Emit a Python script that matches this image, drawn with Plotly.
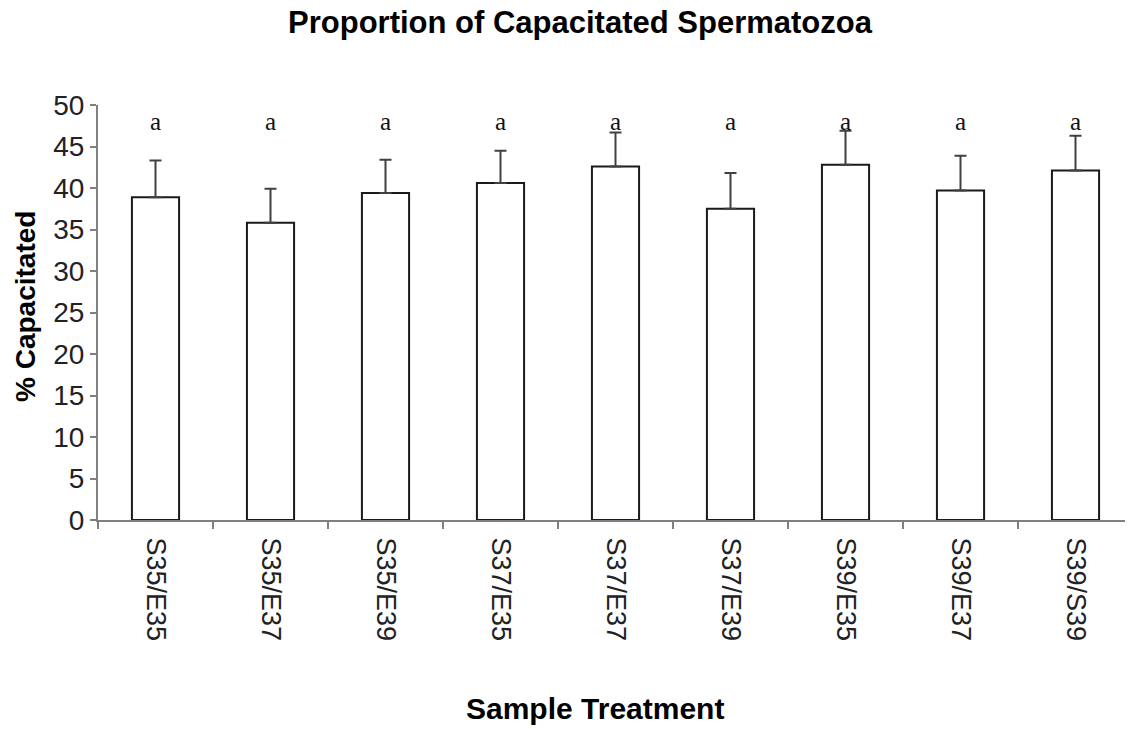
import plotly.graph_objects as go

# treatment groups and their mean % capacitated (+ upper error)
treatments = ['S35/E35', 'S35/E37', 'S35/E39', 'S37/E35', 'S37/E37',
              'S37/E39', 'S39/E35', 'S39/E37', 'S39/S39']
pct_capacitated = [38.9, 35.8, 39.4, 40.6, 42.6, 37.5, 42.8, 39.7, 42.1]
sem = [4.4, 4.1, 4.0, 3.9, 4.1, 4.3, 4.1, 4.2, 4.2]
letters = ['a'] * 9
letter_y = [47.7] * 9
y_ticks = [0, 5, 10, 15, 20, 25, 30, 35, 40, 45, 50]

sans = 'Arial, Liberation Sans, sans-serif'

# page has an 8px body margin, so the figure is sized/positioned to compensate
W, H = 1125, 721
plot_left, plot_top, plot_bottom = 90, 97, 512

fig = go.Figure()

# bars with upward error bars only
fig.add_trace(go.Bar(
    x=treatments,
    y=pct_capacitated,
    width=0.41,
    marker=dict(color='white', line=dict(color='#1a1a1a', width=2)),
    error_y=dict(type='data', symmetric=False, array=sem,
                 arrayminus=[0] * len(sem),
                 color='#404040', thickness=2, width=6),
    showlegend=False,
    hoverinfo='x+y'
))

# significance letters above bars
fig.add_trace(go.Scatter(
    x=treatments,
    y=letter_y,
    mode='text',
    text=letters,
    textfont=dict(family='Liberation Serif, Times New Roman, serif', size=25, color='#111111'),
    showlegend=False,
    hoverinfo='skip'
))

fig.update_layout(
    width=W,
    height=H,
    margin=dict(l=plot_left, r=0, t=plot_top, b=H - plot_bottom, autoexpand=False),
    paper_bgcolor='white',
    plot_bgcolor='white',
    title=dict(text='<b>Proportion of Capacitated Spermatozoa</b>',
               font=dict(family=sans, size=31, color='black'),
               x=572 / W, xanchor='center', xref='container',
               y=1 - 3 / H, yanchor='top', yref='container', pad=dict(t=0, b=0)),
)

fig.update_xaxes(
    automargin=False,
    showline=True, linecolor='#808080', linewidth=2,
    ticks='outside', ticklen=7, tickcolor='#808080', tickwidth=2,
    tickson='boundaries',
    tickangle=90,
    ticklabelstandoff=10,
    tickfont=dict(family=sans, size=27, color='#222222'),
    showgrid=False, zeroline=False,
)
fig.update_yaxes(
    automargin=False,
    range=[0, 50],
    tickvals=y_ticks,
    showline=True, linecolor='#808080', linewidth=2,
    ticks='outside', ticklen=6, tickcolor='#808080', tickwidth=2,
    tickfont=dict(family=sans, size=28, color='#222222'),
    showgrid=False, zeroline=False,
)

plot_w = W - plot_left
plot_h = plot_bottom - plot_top

# axis titles as annotations for exact placement
fig.add_annotation(text='<b>Sample Treatment</b>', xref='paper', yref='paper',
                   x=(587 - plot_left) / plot_w, y=-(700 - plot_bottom) / plot_h,
                   xanchor='center', yanchor='middle', showarrow=False,
                   font=dict(family=sans, size=30, color='black'))
fig.add_annotation(text='<b>% Capacitated</b>', xref='paper', yref='paper',
                   x=-(plot_left - 17) / plot_w, y=(plot_bottom - 299) / plot_h,
                   xanchor='center', yanchor='middle', showarrow=False,
                   textangle=-90,
                   font=dict(family=sans, size=28, color='black'))

fig.write_html('out.html')
